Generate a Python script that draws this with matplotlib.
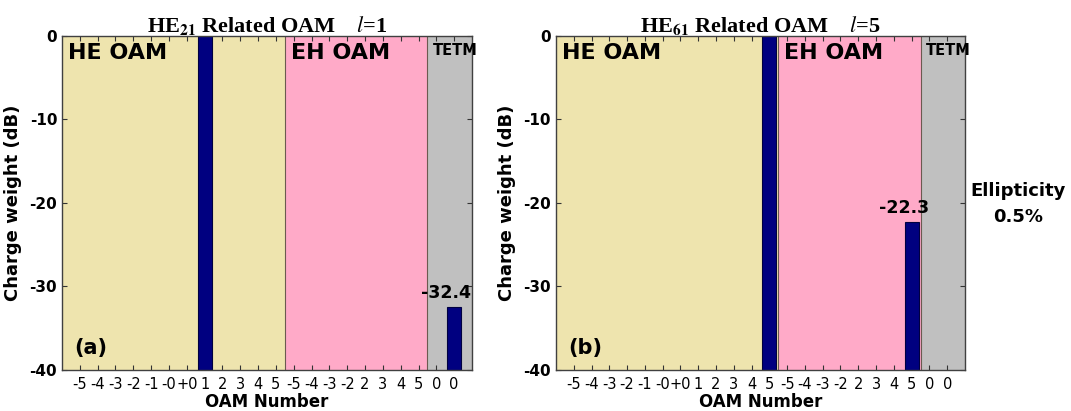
import numpy as np
import matplotlib.pyplot as plt

plt.rcParams['mathtext.fontset'] = 'stix'

# OAM numbers along the x axis (HE block, EH block, TE/TM)
oam_labels = ['-5', '-4', '-3', '-2', '-1', '-0', '+0', '1', '2', '3', '4', '5',
              '-5', '-4', '-3', '-2', '2', '3', '4', '5', '0', '0']
region_names = ['HE OAM', 'EH OAM', 'TETM']
region_sizes = [12, 8, 2]
region_colors = ['#EEE4AE', '#FFAAC8', '#C0C0C0']

nan = np.nan
# charge weight in dB (nan = below -40 dB, not visible)
weight_a = [nan, nan, nan, nan, nan, nan, nan, 0.0, nan, nan, nan, nan,
            nan, nan, nan, nan, nan, nan, nan, nan, nan, -32.4]
weight_b = [nan, nan, nan, nan, nan, nan, nan, nan, nan, nan, nan, 0.0,
            nan, nan, nan, nan, nan, nan, nan, -22.3, nan, nan]
titles = [r'HE$_{\mathbf{21}}$ Related OAM    $\mathit{l}$=1',
          r'HE$_{\mathbf{61}}$ Related OAM    $\mathit{l}$=5']
panel_tags = ['(a)', '(b)']
floor_db = -40

fig = plt.figure(figsize=(10.71, 4.11), dpi=100)
axes = [fig.add_axes([0.0579, 0.0998, 0.3828, 0.8127]),
        fig.add_axes([0.5191, 0.0998, 0.3819, 0.8127])]

x = np.arange(1, len(oam_labels) + 1)

for ax, weights, title, tag in zip(axes, [weight_a, weight_b], titles, panel_tags):
    # shaded mode groups
    start = 0.0
    for k, (name, size, col) in enumerate(zip(region_names, region_sizes, region_colors)):
        lo = 0.0 if k == 0 else start + 0.5
        hi = start + size + 0.5 if k < len(region_sizes) - 1 else len(oam_labels) + 1
        ax.axvspan(lo, hi, color=col, zorder=0, lw=0)
        if k > 0:
            ax.axvline(lo, color='#6b5a50', lw=0.8, zorder=1)
        if name == 'TETM':
            ax.text(lo + 0.3, -0.9, name, fontsize=10.5, fontweight='bold',
                    ha='left', va='top', zorder=3)
        else:
            ax.text(lo + 0.35, -0.8, name, fontsize=16, fontweight='bold',
                    ha='left', va='top', zorder=3)
        start += size

    w = np.array(weights, dtype=float)
    ok = ~np.isnan(w)
    ax.bar(x[ok], w[ok] - floor_db, bottom=floor_db, width=0.78,
           color='#000080', edgecolor='#000040', lw=0.8, zorder=2)
    for xi, wi in zip(x[ok], w[ok]):
        if wi < 0:
            ax.text(xi - 0.45, wi + 0.6, f'{wi:.1f}', fontsize=12.5,
                    fontweight='bold', ha='center', va='bottom', zorder=3)

    ax.text(0.03, 0.066, tag, transform=ax.transAxes, fontsize=15,
            fontweight='bold', ha='left', va='center', zorder=3)

    ax.set_xlim(0, len(oam_labels) + 1)
    ax.set_ylim(floor_db, 0)
    ax.set_xticks(x)
    ax.set_xticklabels(oam_labels, fontsize=10.5)
    ax.set_yticks([-40, -30, -20, -10, 0])
    ax.set_yticklabels(['-40', '-30', '-20', '-10', '0'], fontsize=11,
                       fontweight='bold')
    ax.tick_params(direction='in', top=True, right=True, length=3.5,
                   width=0.8, color='#333333')
    ax.tick_params(axis='x', pad=5)
    for sp in ax.spines.values():
        sp.set_color('#404040')
        sp.set_linewidth(1.0)
    ax.set_title(title, fontsize=16, fontweight='bold',
                 family='Liberation Serif', pad=3)
    ax.set_xlabel('OAM Number', fontsize=12, fontweight='bold', labelpad=1)
    ax.set_ylabel('Charge weight (dB)', fontsize=13, fontweight='bold',
                  labelpad=5)

fig.text(0.951, 0.503, 'Ellipticity\n0.5%', fontsize=13, fontweight='bold',
         ha='center', va='center', linespacing=1.55)

fig.savefig('out.png', dpi=100)
